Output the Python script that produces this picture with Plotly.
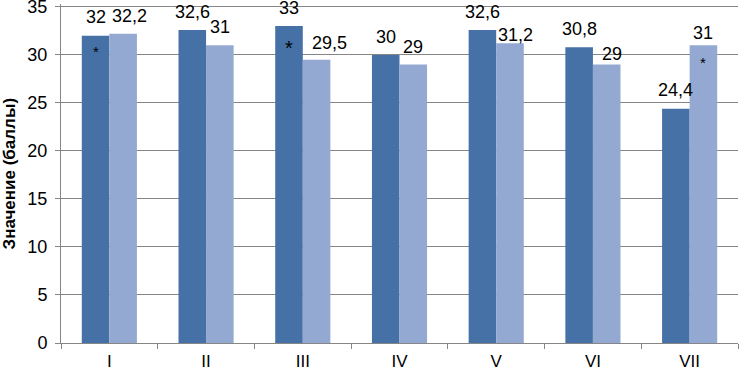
import plotly.graph_objects as go

categories = ["I", "II", "III", "IV", "V", "VI", "VII"]
series_a = [32, 32.6, 33, 30, 32.6, 30.8, 24.4]
series_b = [32.2, 31, 29.5, 29, 31.2, 29, 31]
labels_a = ["32", "32,6", "33", "30", "32,6", "30,8", "24,4"]
labels_b = ["32,2", "31", "29,5", "29", "31,2", "29", "31"]
star_a = [True, False, True, False, False, False, False]
star_b = [False, False, False, False, False, False, True]
y_ticks = [0, 5, 10, 15, 20, 25, 30, 35]

# label placement nudges (style, px)
nudge_x_b = [6, 0, 13, 0, 5, 5, 0]
nudge_y_b = [18, 18, 17, 18, 8, 11, 12]
nudge_y_a = [19, 18, 18, 18, 18, 18, 19]
star_size_a = [15, 15, 20, 15, 15, 15, 15]
star_dy_a = [-16, -16, -22, -16, -16, -16, -16]

dark = "#4571A7"
light = "#93A9D1"
font = "Liberation Sans, Arial, sans-serif"
axis_grey = "#868686"

fig = go.Figure()
fig.add_trace(go.Bar(x=categories, y=series_a, marker=dict(color=dark, line=dict(width=0)), name="A"))
fig.add_trace(go.Bar(x=categories, y=series_b, marker=dict(color=light, line=dict(width=0)), name="B"))

bar_px = 27.6
annotations = []
for i, c in enumerate(categories):
    annotations.append(dict(x=c, y=series_a[i], text=labels_a[i], xref="x", yref="y",
                            showarrow=False, xshift=-bar_px / 2, yshift=nudge_y_a[i],
                            font=dict(size=18, color="#000000", family=font)))
    annotations.append(dict(x=c, y=series_b[i], text=labels_b[i], xref="x", yref="y",
                            showarrow=False, xshift=bar_px / 2 + nudge_x_b[i], yshift=nudge_y_b[i],
                            font=dict(size=18, color="#000000", family=font)))
    if star_a[i]:
        annotations.append(dict(x=c, y=series_a[i], text="*", xref="x", yref="y",
                                showarrow=False, xshift=-bar_px / 2, yshift=star_dy_a[i],
                                font=dict(size=star_size_a[i], color="#000000", family=font)))
    if star_b[i]:
        annotations.append(dict(x=c, y=series_b[i], text="*", xref="x", yref="y",
                                showarrow=False, xshift=bar_px / 2, yshift=-17,
                                font=dict(size=15, color="#000000", family=font)))

annotations.append(dict(x=0, y=0.5, xref="paper", yref="paper", xanchor="center", yanchor="middle",
                        xshift=-52, textangle=-90, showarrow=False,
                        text="<b>Значение (баллы)</b>",
                        font=dict(size=17, family=font, color="#000000")))

fig.update_layout(
    width=740, height=370,
    margin=dict(l=61, r=2, t=4, b=27, autoexpand=False),
    paper_bgcolor="white", plot_bgcolor="white",
    barmode="group", bargap=0.43, bargroupgap=0,
    showlegend=False,
    font=dict(family=font, size=18, color="#000000"),
    annotations=annotations,
)
fig.update_xaxes(
    type="category", showgrid=False, showline=True, linecolor=axis_grey, linewidth=1,
    ticks="outside", tickson="boundaries", ticklen=5, tickcolor=axis_grey,
    tickfont=dict(size=17, family=font, color="#000000"), ticklabelstandoff=3,
    automargin=False, ticklabeloverflow="allow",
)
fig.update_yaxes(
    range=[0, 35.3], tickmode="array", tickvals=y_ticks, ticktext=[str(v) for v in y_ticks],
    showgrid=True, gridcolor=axis_grey, gridwidth=1,
    showline=True, linecolor=axis_grey, linewidth=1, ticks="outside", ticklen=5,
    tickcolor=axis_grey, zeroline=False, ticklabelstandoff=4,
    tickfont=dict(size=18, family=font, color="#000000"),
    automargin=False, ticklabeloverflow="allow",
)

fig.write_html("out.html", config={"displayModeBar": False},
               post_script="document.body.style.margin='0';document.body.style.overflow='hidden';")
